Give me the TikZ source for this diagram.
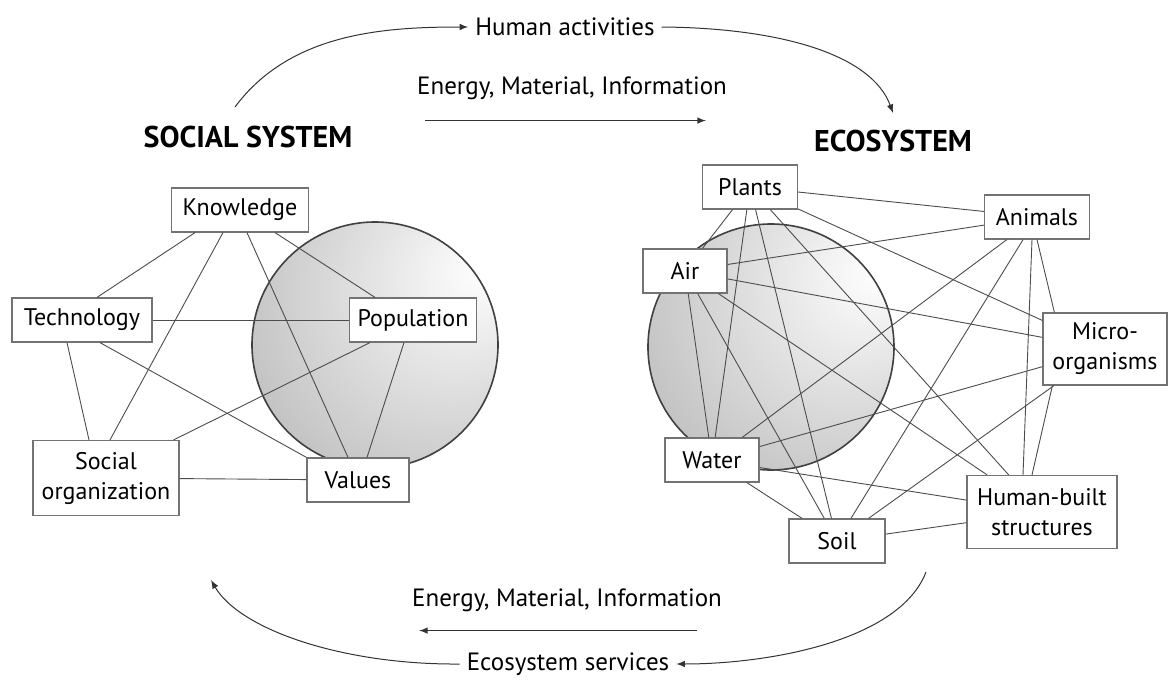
\documentclass[tikz,border=0pt]{standalone}
\usepackage{fontspec}
\setmainfont{PT Sans}
\usepackage{tikz}
\usetikzlibrary{arrows}
\usetikzlibrary{shapes}
\tikzstyle{part}=[
   rectangle,
   draw=black!55,
   fill=white,
   line width=0.6pt,
   align=center,
   minimum height=22pt,
   inner sep=2pt,
   font=\fontsize{12}{15}\selectfont
]
\tikzstyle{system}=[
   font=\fontsize{15}{17}\selectfont\bfseries
]
\tikzstyle{flow}=[
   font=\fontsize{12.5}{14}\selectfont
]
\tikzstyle{link}=[
   draw=black!70,
   line width=0.45pt
]
\tikzstyle{sphere}=[
   circle,
   draw=black!75,
   line width=0.8pt,
   shading=globe,
   inner sep=0pt,
   minimum size=123pt
]
\pgfdeclareradialshading{globe}{\pgfpoint{22bp}{16bp}}{color(0bp)=(white); color(10bp)=(black!6); color(40bp)=(black!24); color(68bp)=(black!48); color(80bp)=(black!55)}

\begin{document}
\begin{tikzpicture}[
         >=latex,
         x=0.5pt, y=-0.5pt
      ]
      \useasboundingbox (0,0) rectangle (1168,680);

      % the two spheres
      \node (lsph) [sphere] at (375,345) {};
      \node (rsph) [sphere] at (771,347) {};

      % social system
      \node (soctitle) [system] at (248,137) {SOCIAL SYSTEM};
      \node (know) [part, minimum width=68.5pt] at (240,210) {Knowledge};
      \node (tech) [part, minimum width=70pt] at (82,320) {Technology};
      \node (popu) [part, minimum width=63.5pt] at (413,320) {Population};
      \node (soc) [part, minimum width=73pt, minimum height=37.5pt] at (106,478) {Social\\organization};
      \node (val) [part, minimum width=51pt] at (358,480) {Values};

      % ecosystem
      \node (ecotitle) [system] at (893,141) {ECOSYSTEM};
      \node (plants) [part, minimum width=47.5pt] at (750,187) {Plants};
      \node (animals) [part, minimum width=52.5pt] at (1037,217) {Animals};
      \node (air) [part, minimum width=42pt] at (685,271) {Air};
      \node (micro) [part, minimum width=62pt, minimum height=36pt] at (1105,349) {Micro-\\organisms};
      \node (water) [part, minimum width=47pt] at (712,460) {Water};
      \node (soil) [part, minimum width=48pt] at (837,541) {Soil};
      \node (human) [part, minimum width=75pt, minimum height=36.5pt] at (1042,512) {Human-built\\structures};

      % flows
      \node (act) [flow] at (565,27) {Human activities};
      \node (emi1) [flow] at (572,88) {Energy, Material, Information};
      \node (emi2) [flow] at (567,600) {Energy, Material, Information};
      \node (serv) [flow] at (568,664) {Ecosystem services};
      \coordinate (back) at (926,572);

      \path[link]
      ([xshift=-22.5pt]know.south) edge ([xshift=7.5pt]tech.north)
      ([xshift=-8.5pt]know.south) edge ([xshift=2pt]soc.north)
      ([xshift=3.5pt]know.south) edge ([xshift=-5pt]val.north)
      ([xshift=17.5pt]know.south) edge ([xshift=-19pt]popu.north)
      (tech) edge (popu)
      ([xshift=-7.5pt]tech.south) edge ([xshift=-8.5pt]soc.north)
      ([xshift=9pt]tech.south) edge (val.north west)
      ([xshift=-21.5pt]popu.south) edge ([xshift=-3pt]soc.north east)
      ([xshift=-4.5pt]popu.south) edge ([xshift=4.5pt]val.north)
      (soc) edge (val)

      (plants) edge (animals) edge (air) edge (micro) edge (water) edge (soil) edge (human)
      (animals) edge (air) edge (water) edge (soil)
      (air) edge (micro) edge (water) edge (soil) edge (human)
      (micro) edge (water) edge (soil)
      (water) edge (soil) edge (human)
      (soil) edge (human)
      (animals.south) edge ([xshift=6pt]micro.north west)
      ([xshift=-2.5pt]animals.south) edge ([xshift=-9.5pt]human.north)
      ([xshift=5pt]micro.south west) edge ([xshift=-5pt]human.north)
      ;

      \draw[->, line width=0.5pt, black!80]
         ([xshift=-6.5pt,yshift=6pt]soctitle.north) .. controls +(55,-74) and +(-85,0) .. (act.west);
      \draw[->, line width=0.5pt, black!80]
         (act.east) .. controls +(120,1) and +(-21,-58) .. ([yshift=5pt]ecotitle.north);
      \draw[->, line width=0.5pt, black!80]
         ([xshift=7.5pt,yshift=-7pt]emi1.south west) -- ([xshift=-14pt,yshift=-7pt]emi1.south east);
      \draw[->, line width=0.5pt, black!80]
         ([xshift=-16pt,yshift=-6pt]emi2.south east) -- ([xshift=7pt,yshift=-6pt]emi2.south west);
      \draw[->, line width=0.5pt, black!80]
         (serv.west) .. controls +(-116,1) and +(29,50) .. (211,580);
      \draw[->, line width=0.5pt, black!80]
         (back) .. controls +(-26,68) and +(95,0) .. (serv.east);
\end{tikzpicture}
\end{document}
